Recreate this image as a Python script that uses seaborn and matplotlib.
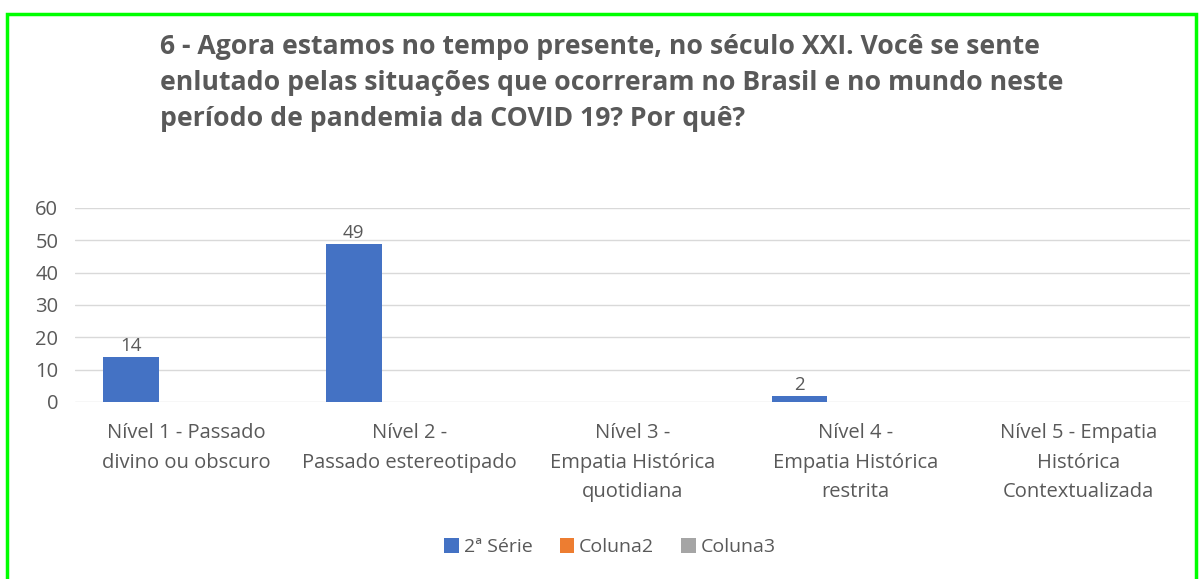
import pandas as pd
import numpy as np
import matplotlib.pyplot as plt
import seaborn as sns
from matplotlib.patches import Rectangle

# dados
categorias = ['Nível 1 - Passado\ndivino ou obscuro',
              'Nível 2 -\nPassado estereotipado',
              'Nível 3 -\nEmpatia Histórica\nquotidiana',
              'Nível 4 -\nEmpatia Histórica\nrestrita',
              'Nível 5 - Empatia\nHistórica\nContextualizada']
series = ['2ª Série', 'Coluna2', 'Coluna3']
serie_2a = [14, 49, np.nan, 2, np.nan]
coluna2 = [np.nan] * 5
coluna3 = [np.nan] * 5
cores = ['#4472C4', '#ED7D31', '#A5A5A5']

titulo = ('6 - Agora estamos no tempo presente, no século XXI. Você se sente\n'
          'enlutado pelas situações que ocorreram no Brasil e no mundo neste\n'
          'período de pandemia da COVID 19? Por quê?')

df = pd.DataFrame({
    'categoria': categorias * 3,
    'serie': [s for s in series for _ in categorias],
    'valor': serie_2a + coluna2 + coluna3,
})

sns.set_theme(style='white')
plt.rcParams['font.family'] = ['Open Sans', 'DejaVu Sans']
cinza = '#595959'

fig = plt.figure(figsize=(12.03, 5.79), dpi=100)
ax = fig.add_axes([0.0623, 0.3057, 0.9267, 0.3351])

sns.barplot(data=df, x='categoria', y='valor', hue='serie', palette=cores,
            width=0.75, linewidth=0, saturation=1, ax=ax)

ax.set_ylim(0, 60)
ax.set_yticks(range(0, 61, 10))
ax.yaxis.grid(True, color='#D9D9D9', linewidth=1)
ax.set_axisbelow(True)
for s in ax.spines.values():
    s.set_visible(False)
ax.set_xlabel('')
ax.set_ylabel('')
ax.tick_params(axis='both', length=0, colors=cinza, labelsize=14.5)
ax.tick_params(axis='x', pad=15)
ax.tick_params(axis='y', pad=12)
for lbl in ax.get_xticklabels():
    lbl.set_linespacing(1.65)
    lbl.set_va('top')

# rótulos de valor em cima das barras
for cont in ax.containers:
    labels = ['' if np.isnan(v) else f'{v:.0f}' for v in cont.datavalues]
    ax.bar_label(cont, labels=labels, color=cinza, fontsize=13.5, padding=1)

sns.move_legend(ax, 'lower center', bbox_to_anchor=(0.48, -0.885), ncol=3,
                frameon=False, title=None, fontsize=14, handlelength=0.75,
                handleheight=0.75, handletextpad=0.25, columnspacing=1.4)
for t in ax.get_legend().get_texts():
    t.set_color(cinza)

fig.text(0.133, 0.942, titulo, ha='left', va='top', fontsize=19.2,
         fontweight='bold', color=cinza, linespacing=1.5)

# moldura verde
fig.patches.append(Rectangle((0.0058, -0.05), 0.988, 1.025, transform=fig.transFigure,
                             fill=False, edgecolor='#00FF00', linewidth=2.5))

fig.savefig('out.png', dpi=100)
